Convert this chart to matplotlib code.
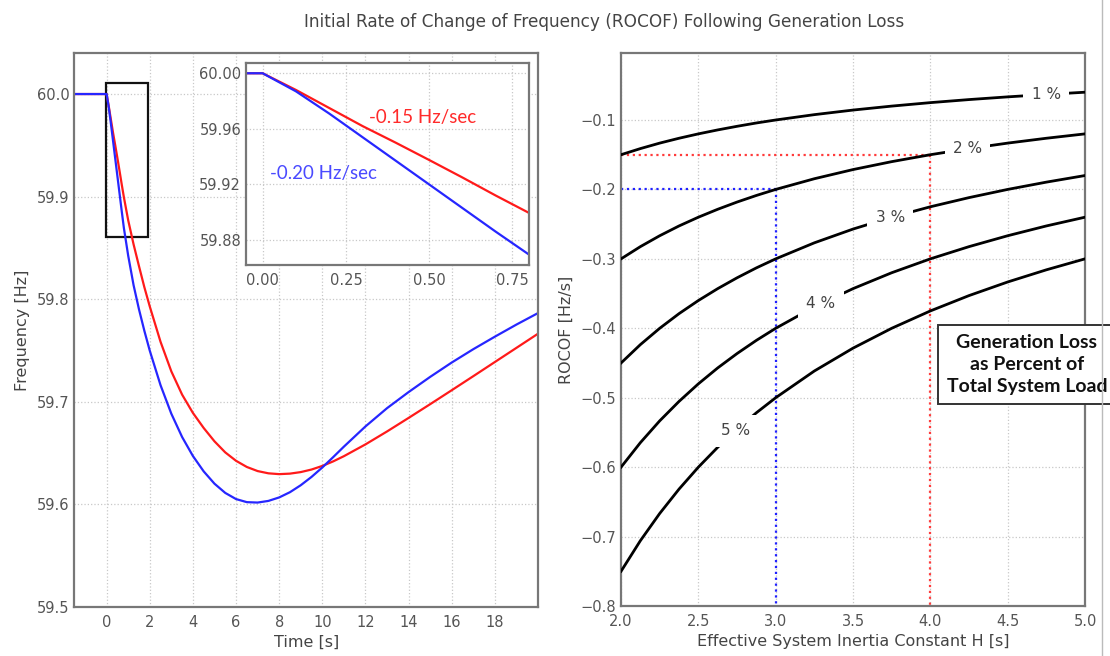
import matplotlib.pyplot as plt
from matplotlib.patches import Rectangle
from matplotlib.ticker import FormatStrFormatter

plt.rcParams['font.family'] = ['DejaVu Sans']

# frequency response after the generation loss
time_s = [-1.5, 0.0, 0.1, 0.2, 0.3, 0.4, 0.5, 0.6, 0.7, 0.8, 1.0, 1.25, 1.5, 1.75,
          2.0, 2.5, 3.0, 3.5, 4.0, 4.5, 5.0, 5.5, 6.0, 6.5, 7.0, 7.5, 8.0, 8.5,
          9.0, 9.5, 10, 10.5, 11, 12, 13, 14, 15, 16, 17, 18, 19, 20]
freq_red = [60.0, 60.0, 59.988, 59.975, 59.962, 59.950, 59.9376, 59.925, 59.912, 59.8995,
            59.8770, 59.8535, 59.8323, 59.8117, 59.7930, 59.7585, 59.7297, 59.7070,
            59.6892, 59.6745, 59.6615, 59.6507, 59.6425, 59.6365, 59.6325, 59.6303,
            59.6295, 59.6300, 59.6315, 59.6340, 59.6375, 59.6419, 59.6470, 59.6585,
            59.6711, 59.6843, 59.6977, 59.7113, 59.7250, 59.7388, 59.7526, 59.7664]
freq_blue = [60.0, 60.0, 59.987, 59.971, 59.954, 59.937, 59.920, 59.903, 59.886, 59.8695,
             59.8425, 59.8137, 59.7902, 59.7692, 59.7499, 59.7162, 59.6884, 59.6657,
             59.6472, 59.6322, 59.6202, 59.6112, 59.6052, 59.6022, 59.6018, 59.6034,
             59.6068, 59.6119, 59.6187, 59.6268, 59.6360, 59.6460, 59.6563, 59.6760,
             59.6938, 59.7095, 59.7243, 59.7383, 59.7513, 59.7635, 59.7753, 59.7865]

# ROCOF vs inertia constant for each generation loss percentage
inertia_h = [2.0, 2.125, 2.25, 2.375, 2.5, 2.625, 2.75, 2.875, 3.0, 3.25, 3.5, 3.75,
             4.0, 4.25, 4.5, 4.75, 5.0]
rocof_1 = [-0.15, -0.1412, -0.1333, -0.1263, -0.12, -0.1143, -0.1091, -0.1043, -0.1,
           -0.0923, -0.0857, -0.08, -0.075, -0.0706, -0.0667, -0.0632, -0.06]
rocof_2 = [-0.3, -0.2824, -0.2667, -0.2526, -0.24, -0.2286, -0.2182, -0.2087, -0.2,
           -0.1846, -0.1714, -0.16, -0.15, -0.1412, -0.1333, -0.1263, -0.12]
rocof_3 = [-0.45, -0.4235, -0.4, -0.3789, -0.36, -0.3429, -0.3273, -0.3130, -0.3,
           -0.2769, -0.2571, -0.24, -0.225, -0.2118, -0.2, -0.1895, -0.18]
rocof_4 = [-0.6, -0.5647, -0.5333, -0.5053, -0.48, -0.4571, -0.4364, -0.4174, -0.4,
           -0.3692, -0.3429, -0.32, -0.3, -0.2824, -0.2667, -0.2526, -0.24]
rocof_5 = [-0.75, -0.7059, -0.6667, -0.6316, -0.6, -0.5714, -0.5455, -0.5217, -0.5,
           -0.4615, -0.4286, -0.4, -0.375, -0.3529, -0.3333, -0.3158, -0.3]
rocof_curves = [rocof_1, rocof_2, rocof_3, rocof_4, rocof_5]
pct_labels = ['1 %', '2 %', '3 %', '4 %', '5 %']
label_h = [4.75, 4.24, 3.74, 3.29, 2.74]

# reference cases: (H, ROCOF)
case_red = (4.0, -0.15)
case_blue = (3.0, -0.20)

RED = '#ff1a1a'
BLUE = '#2626ff'
SPINE = '#777777'
TICK = '#555555'


def style_axes(ax, xpad=6, ypad=3.5):
    for s in ax.spines.values():
        s.set_color(SPINE)
        s.set_linewidth(1.6)
    ax.tick_params(axis='both', length=0, labelsize=10.5, labelcolor=TICK)
    ax.tick_params(axis='x', pad=xpad)
    ax.tick_params(axis='y', pad=ypad)
    ax.grid(True, linestyle=':', color='#c8c8c8', linewidth=0.9)
    ax.set_axisbelow(True)


fig = plt.figure(figsize=(11.1, 6.56), dpi=100)

fig.text(0.544, 0.966, 'Initial Rate of Change of Frequency (ROCOF) Following Generation Loss',
         ha='center', va='center', fontsize=12.2, color='#444444')

# ---- left panel: frequency traces ----
ax1 = fig.add_axes([0.0669, 0.0747, 0.4178, 0.8445])
ax1.plot(time_s, freq_red, color=RED, lw=1.6)
ax1.plot(time_s, freq_blue, color=BLUE, lw=1.6)
ax1.set_xlim(-1.5, 20)
ax1.set_ylim(59.5, 60.04)
ax1.set_xticks(range(0, 20, 2))
ax1.set_yticks([59.5, 59.6, 59.7, 59.8, 59.9, 60.0])
ax1.yaxis.set_major_formatter(FormatStrFormatter('%.1f'))
style_axes(ax1)
ax1.set_xlabel('Time [s]', fontsize=11.5, color='#444444', labelpad=3)
ax1.set_ylabel('Frequency [Hz]', fontsize=11.5, color='#444444', labelpad=5)
ax1.add_patch(Rectangle((-0.05, 59.861), 1.95, 0.15, fill=False, edgecolor='#111111', lw=1.6))

# inset zoom on the first 0.8 s
ax_in = fig.add_axes([0.2216, 0.596, 0.2550, 0.308])
ax_in.plot(time_s, freq_red, color=RED, lw=1.6)
ax_in.plot(time_s, freq_blue, color=BLUE, lw=1.6)
ax_in.set_xlim(-0.05, 0.8)
ax_in.set_ylim(59.862, 60.0074)
ax_in.set_xticks([0.0, 0.25, 0.5, 0.75])
ax_in.set_yticks([59.88, 59.92, 59.96, 60.0])
ax_in.xaxis.set_major_formatter(FormatStrFormatter('%.2f'))
ax_in.yaxis.set_major_formatter(FormatStrFormatter('%.2f'))
style_axes(ax_in)
ax_in.text(0.319, 59.968, '-0.15 Hz/sec', color='#ff2a2a', fontsize=13.5,
           family=['Lato', 'DejaVu Sans'], ha='left', va='center')
ax_in.text(0.023, 59.928, '-0.20 Hz/sec', color='#4a4aff', fontsize=13.5,
           family=['Lato', 'DejaVu Sans'], ha='left', va='center')

# ---- right panel: ROCOF vs inertia ----
ax2 = fig.add_axes([0.5595, 0.0762, 0.4180, 0.8425])
for curve, lab, hx in zip(rocof_curves, pct_labels, label_h):
    ax2.plot(inertia_h, curve, color='black', lw=2.0, zorder=3)
    # label sits on the line, a white box cuts the gap like an inline contour label
    yv = curve[0] * inertia_h[0] / hx
    ax2.text(hx, yv, lab, ha='center', va='center', fontsize=11, color='#444444', zorder=4,
             bbox=dict(boxstyle='square,pad=0.55', facecolor='white', edgecolor='none'))

ax2.plot([inertia_h[0], case_red[0]], [case_red[1], case_red[1]], ':', color='#ff3b3b', lw=1.6, zorder=2)
ax2.plot([case_red[0], case_red[0]], [case_red[1], -0.8], ':', color='#ff3b3b', lw=1.6, zorder=2)
ax2.plot([inertia_h[0], case_blue[0]], [case_blue[1], case_blue[1]], ':', color='#2020ff', lw=1.6, zorder=2)
ax2.plot([case_blue[0], case_blue[0]], [case_blue[1], -0.8], ':', color='#2020ff', lw=1.6, zorder=2)

ax2.set_xlim(2.0, 5.0)
ax2.set_ylim(-0.8, -0.004)
ax2.set_xticks([2.0, 2.5, 3.0, 3.5, 4.0, 4.5, 5.0])
ax2.set_yticks([-0.8, -0.7, -0.6, -0.5, -0.4, -0.3, -0.2, -0.1])
ax2.xaxis.set_major_formatter(FormatStrFormatter('%.1f'))
style_axes(ax2)
ax2.set_xlabel('Effective System Inertia Constant H [s]', fontsize=11.5, color='#444444', labelpad=3)
ax2.set_ylabel('ROCOF [Hz/s]', fontsize=11.5, color='#444444', labelpad=5)

ax2.text(4.624, -0.452, 'Generation Loss\nas Percent of\nTotal System Load',
         ha='center', va='center', fontsize=14, fontweight='bold', color='#111111',
         family=['Lato', 'DejaVu Sans'], linespacing=1.35, zorder=6, clip_on=False,
         bbox=dict(boxstyle='square,pad=0.45', facecolor='white', edgecolor='#333333', lw=1.4))

# thin border line on the far right of the image
fig.add_artist(plt.Line2D([0.993, 0.993], [0.0, 1.0], color='#bbbbbb', lw=1.0))

fig.savefig('out.png', dpi=100)
